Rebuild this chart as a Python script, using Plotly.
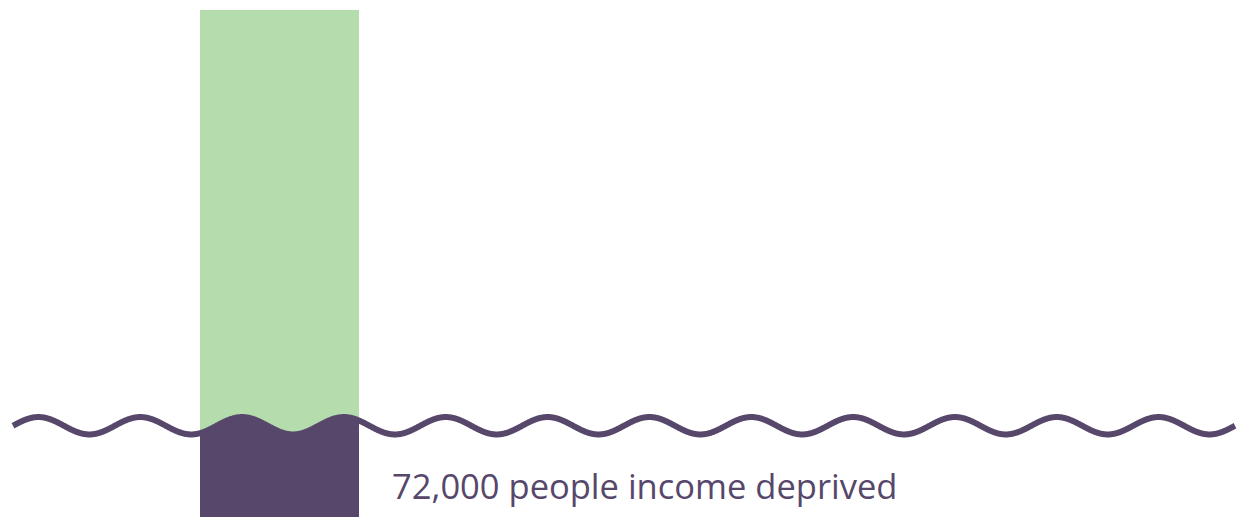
import numpy as np
import plotly.graph_objects as go

# ---- data ----
categories = ["Population"]
total_population = [400000]
income_deprived = [72000]
label_text = ["72,000 people income deprived"]

# ---- style / layout constants ----
W, H = 1248, 517
GREEN = "#b4dcac"
PURPLE = "#56476b"
BAR_LEFT_PX, BAR_W_PX = 200, 159
Y_TOP_PX = 10  # pixel where the total bar top lands

# x axis: bar centred at 0 with width 1 -> 1 unit = BAR_W_PX pixels
x_lo = -0.5 - BAR_LEFT_PX / BAR_W_PX
x_hi = x_lo + W / BAR_W_PX
y_hi = total_population[0] * H / (H - Y_TOP_PX)

def px_to_x(px):
    return x_lo + px / BAR_W_PX

# decorative water-line wave (style element, centred on the income-deprived level)
n_waves = 12
wave_start, wave_end = px_to_x(13), px_to_x(1235)
amp = 8.7 * y_hi / H
wx = np.linspace(wave_start, wave_end, 3000)
wy = income_deprived[0] + amp * np.sin(2 * np.pi * n_waves * (wx - wave_start) / (wave_end - wave_start))

# segment of the wave over the bar, for the submerged fill
mask = (wx >= -0.5) & (wx <= 0.5)
fx = np.concatenate([[-0.5], wx[mask], [0.5]])
fy = np.interp(fx, wx, wy)

fig = go.Figure()
fig.add_trace(go.Bar(x=[0], y=total_population, width=1, marker_color=GREEN,
                     marker_line_width=0, hoverinfo="skip", name=categories[0]))
fig.add_trace(go.Scatter(x=fx, y=fy, mode="lines", line=dict(width=0, color=PURPLE, simplify=False),
                         fill="tozeroy", fillcolor=PURPLE, hoverinfo="skip"))
fig.add_trace(go.Scatter(x=wx, y=wy, mode="lines",
                         line=dict(width=6, color=PURPLE, shape="linear", simplify=False),
                         hoverinfo="skip"))

fig.add_annotation(x=px_to_x(390), y=income_deprived[0] * 0.345, xref="x", yref="y",
                   text=label_text[0], showarrow=False, xanchor="left", yanchor="middle",
                   font=dict(family="Open Sans", size=34.5, color=PURPLE))

fig.update_layout(
    width=W, height=H, margin=dict(l=0, r=0, t=0, b=0),
    paper_bgcolor="white", plot_bgcolor="white", showlegend=False,
    xaxis=dict(range=[x_lo, x_hi], visible=False, fixedrange=True),
    yaxis=dict(range=[0, y_hi], visible=False, fixedrange=True),
)
fig.write_html("out.html", config={"displayModeBar": False},
               post_script="document.body.style.margin='0';document.body.style.overflow='hidden';")
